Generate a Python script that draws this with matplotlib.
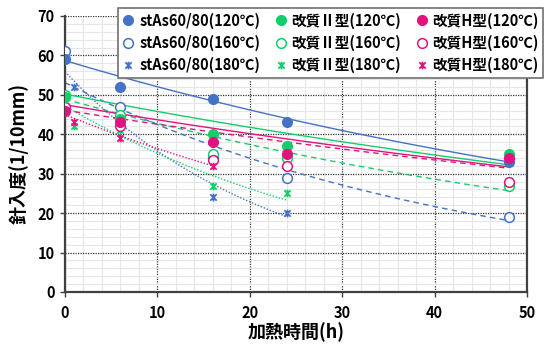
import numpy as np
import matplotlib
matplotlib.use("Agg")
import matplotlib.pyplot as plt
from matplotlib.path import Path
from matplotlib.ticker import MultipleLocator

plt.rcParams['font.family'] = ['Noto Sans CJK JP', 'DejaVu Sans']
plt.rcParams['font.weight'] = 'bold'

# ---- data ----
x_main = [0, 6, 16, 24, 48]
x_180 = [1, 6, 16, 24]
x_h180 = [1, 6, 16]

stas_120 = [59, 52, 49, 43, 33]
stas_160 = [61, 47, 34, 29, 19]
stas_180 = [52, 42, 24, 20]
ii_120 = [49.5, 44, 40, 37, 35]
ii_160 = [50, 45, 35, 34, 27]
ii_180 = [42, 41, 27, 25]
h_120 = [46, 43, 38, 35, 34]
h_160 = [47, 42, 33.5, 32, 28]
h_180 = [43, 39, 32]

labels = ["stAs60/80(120℃)", "stAs60/80(160℃)", "stAs60/80(180℃)",
          "改質Ⅱ型(120℃)", "改質Ⅱ型(160℃)", "改質Ⅱ型(180℃)",
          "改質H型(120℃)", "改質H型(160℃)", "改質H型(180℃)"]

# exponential trend lines y = a*exp(b*x) (coefficients as shown by chart)
trend_a = [58.7, 53.1, 55.9, 50.2, 48.9, 47.2, 47.5, 46.1, 45.0]
trend_b = [-0.0120, -0.0224, -0.0447, -0.0092, -0.0134, -0.0294, -0.0084, -0.0080, -0.0213]

x_ticks = [0, 10, 20, 30, 40, 50]
y_ticks = [0, 10, 20, 30, 40, 50, 60, 70]

# ---- style ----
BLUE = "#4472C4"
GREEN = "#12CF6A"
MAGENTA = "#E2137F"

star = Path([(-1, -1), (1, 1), (-1, 1), (1, -1), (0, -1.2), (0, 1.2)],
            [Path.MOVETO, Path.LINETO, Path.MOVETO, Path.LINETO, Path.MOVETO, Path.LINETO])

series = [
    (x_main, stas_120, BLUE, 'filled', '-'),
    (x_main, stas_160, BLUE, 'open', (0, (4, 3))),
    (x_180, stas_180, BLUE, 'star', (0, (1, 1.3))),
    (x_main, ii_120, GREEN, 'filled', '-'),
    (x_main, ii_160, GREEN, 'open', (0, (4, 3))),
    (x_180, ii_180, GREEN, 'star', (0, (1, 1.3))),
    (x_main, h_120, MAGENTA, 'filled', '-'),
    (x_main, h_160, MAGENTA, 'open', (0, (4, 3))),
    (x_h180, h_180, MAGENTA, 'star', (0, (1, 1.3))),
]

fig = plt.figure(figsize=(5.46, 3.45), dpi=100)
ax = fig.add_axes([65/546, 1-292/345, (527-65)/546, (292-16)/345])

ax.set_xlim(0, 50)
ax.set_ylim(0, 70)
ax.xaxis.set_major_locator(MultipleLocator(10))
ax.yaxis.set_major_locator(MultipleLocator(10))
ax.xaxis.set_minor_locator(MultipleLocator(2))
ax.yaxis.set_minor_locator(MultipleLocator(2))
ax.grid(which='minor', color='#E6E6E6', linewidth=0.8, linestyle='-')
ax.grid(which='major', color='#333333', linewidth=0.9, linestyle=(0, (1, 1)))
ax.set_axisbelow(True)

# trend lines
for i, (xs, ys, col, kind, ls) in enumerate(series):
    xt = np.linspace(0, max(xs), 200)
    yt = trend_a[i] * np.exp(trend_b[i] * xt)
    ax.plot(xt, yt, color=col, linestyle=ls, linewidth=1.0, zorder=2)

# markers
for i, (xs, ys, col, kind, ls) in enumerate(series):
    if kind == 'filled':
        ax.plot(xs, ys, linestyle='none', marker='o', markersize=7,
                markerfacecolor=col, markeredgecolor=col, label=labels[i], zorder=4)
    elif kind == 'open':
        ax.plot(xs, ys, linestyle='none', marker='o', markersize=7,
                markerfacecolor='white', markeredgecolor=col, markeredgewidth=1.1,
                label=labels[i], zorder=3)
    else:
        ax.plot(xs, ys, linestyle='none', marker=star, markersize=5.5,
                markerfacecolor='none', markeredgecolor=col, markeredgewidth=1.3,
                label=labels[i], zorder=3)

ax.set_xticks(x_ticks)
ax.set_yticks(y_ticks)
for s in ['left', 'bottom', 'right']:
    ax.spines[s].set_color('#404040')
    ax.spines[s].set_linewidth(1.6)
ax.spines['top'].set_visible(False)
ax.tick_params(which='major', direction='out', length=3.5, width=1, color='#404040',
               labelsize=10.5, pad=4)
ax.tick_params(axis='x', which='major', pad=6)
ax.tick_params(which='minor', length=0)
for lab in ax.get_xticklabels() + ax.get_yticklabels():
    lab.set_fontweight('bold')

ax.set_xlabel("加熱時間(h)", fontsize=13, fontweight='bold', labelpad=1)
ax.set_ylabel("針入度(1/10mm)", fontsize=13, fontweight='bold', labelpad=6)

leg = fig.legend(loc='upper left', bbox_to_anchor=(118/546, 1-8/345), ncol=3,
                 prop={'size': 10.5, 'weight': 'bold'}, frameon=True, fancybox=False,
                 edgecolor='#707070', framealpha=1, borderpad=0.3, labelspacing=0.42,
                 handlelength=0.8, handletextpad=0.35, columnspacing=1.0,
                 borderaxespad=0)
leg.get_frame().set_linewidth(1.2)

fig.savefig("out.png", dpi=100)
